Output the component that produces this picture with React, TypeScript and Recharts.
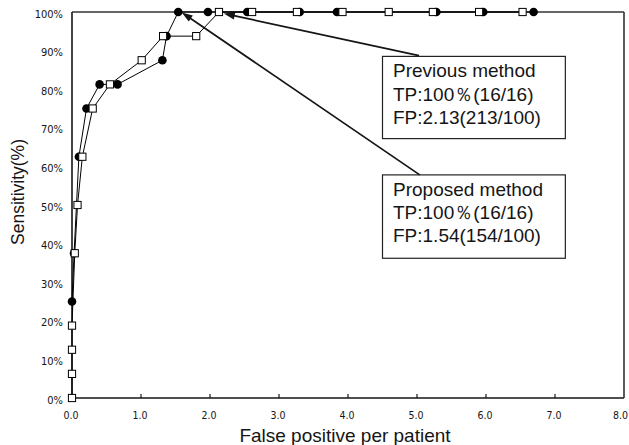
import React from 'react';
import { LineChart, Line, XAxis, YAxis, ReferenceLine, ReferenceArea, Label } from 'recharts';

// Proposed method (filled circles)
const proposedFP = [0.0, 0.03, 0.10, 0.21, 0.40, 0.66, 1.31, 1.37, 1.54, 1.97, 2.54, 3.30, 3.84, 5.28, 5.96, 6.69];
const proposedSens = [25, 37.5, 62.5, 75, 81.25, 81.25, 87.5, 93.75, 100, 100, 100, 100, 100, 100, 100, 100];

// Previous method (open squares)
const previousFP = [0, 0, 0, 0, 0.04, 0.08, 0.15, 0.30, 0.55, 1.01, 1.32, 1.80, 2.13, 2.61, 3.26, 3.92, 4.59, 5.23, 5.90, 6.53];
const previousSens = [0, 6.25, 12.5, 18.75, 37.5, 50, 62.5, 75, 81.25, 87.5, 93.75, 93.75, 100, 100, 100, 100, 100, 100, 100, 100];

const xTicks = [0, 1, 2, 3, 4, 5, 6, 7, 8];
const yTicks = [0, 10, 20, 30, 40, 50, 60, 70, 80, 90, 100];

const previousText = ['Previous method', 'TP:100\uFF05(16/16)', 'FP:2.13(213/100)'];
const proposedText = ['Proposed method', 'TP:100\uFF05(16/16)', 'FP:1.54(154/100)'];

const proposedData = proposedFP.map((x, i) => ({ x, y: proposedSens[i] }));
const previousData = previousFP.map((x, i) => ({ x, y: previousSens[i] }));

const SANS = "'Liberation Sans', Arial, Helvetica, sans-serif";
const NARROW = "'Liberation Sans Narrow', 'Arial Narrow', 'DejaVu Sans Condensed', sans-serif";
const INK = '#151515';

const XTick = (p: any) => {
  const { x, y, payload } = p;
  const v = payload.value as number;
  const last = v >= 8;
  return (
    <g>
      {v > 0 && v < 8 && <line x1={x} y1={y} x2={x} y2={y - 4} stroke={INK} strokeWidth={1.2} />}
      <text
        x={last ? x + 4 : x - 1}
        y={y + 21}
        textAnchor={last ? 'end' : 'middle'}
        fontSize={10.5}
        fontFamily={NARROW}
        fill={INK}
      >
        {v.toFixed(1)}
      </text>
    </g>
  );
};

const YTick = (p: any) => {
  const { x, y, payload } = p;
  return (
    <text x={x - 9} y={y + 5.5} textAnchor="end" fontSize={11} fontFamily={NARROW} fill={INK}>
      {`${payload.value}%`}
    </text>
  );
};

const XLabel = (p: any) => {
  const vb = p.viewBox || { x: 72, y: 398, width: 552, height: 47 };
  return (
    <text x={vb.x + vb.width / 2 - 3} y={vb.y + 44} textAnchor="middle" fontSize={19} fontFamily={SANS} fill={INK}>
      False positive per patient
    </text>
  );
};

const YLabel = (p: any) => {
  const vb = p.viewBox || { x: 0, y: 12, width: 72, height: 386 };
  const cx = vb.x + 23.5;
  const cy = vb.y + vb.height / 2 - 13;
  return (
    <text transform={`translate(${cx},${cy}) rotate(-90)`} textAnchor="middle" fontSize={17.5} fontFamily={SANS} fill={INK}>
      Sensitivity(%)
    </text>
  );
};

const circleDot = (p: any) => (
  <circle key={`c${p.index}`} cx={p.cx} cy={p.cy} r={4.3} fill="#000" />
);
const squareDot = (p: any) => (
  <rect key={`s${p.index}`} x={p.cx - 3.6} y={p.cy - 3.6} width={7.2} height={7.2} fill="#fff" stroke="#000" strokeWidth={1} />
);

const arrowShape = (p: any) => {
  const { x1, y1, x2, y2 } = p;
  const dx = x2 - x1;
  const dy = y2 - y1;
  const len = Math.hypot(dx, dy) || 1;
  const ux = dx / len;
  const uy = dy / len;
  const L = 11;
  const W = 3.6;
  const bx = x2 - ux * L;
  const by = y2 - uy * L;
  const pts = `${x2},${y2} ${bx - uy * W},${by + ux * W} ${bx + uy * W},${by - ux * W}`;
  return (
    <g>
      <line x1={x1} y1={y1} x2={bx + ux * 2} y2={by + uy * 2} stroke={INK} strokeWidth={1.7} />
      <polygon points={pts} fill={INK} />
    </g>
  );
};

const boxShape = (lines: string[]) => (p: any) => (
  <g>
    <rect x={p.x} y={p.y} width={p.width} height={p.height} fill="#fff" stroke="#222" strokeWidth={1.2} />
    {lines.map((t, i) => (
      <text key={i} x={p.x + 10.5} y={p.y + 21 + i * 23.3} fontSize={19} fontFamily={SANS} fill={INK}>
        {t}
      </text>
    ))}
  </g>
);

export default function App() {
  return (
    <div style={{ position: 'absolute', left: 0, top: 0, width: 629, height: 445, background: '#fff' }}>
      <LineChart width={629} height={445} margin={{ top: 12, right: 5, left: 0, bottom: 0 }}>
        <XAxis
          type="number"
          dataKey="x"
          domain={[0, 8]}
          ticks={xTicks}
          interval={0}
          axisLine={false}
          tickLine={false}
          tickSize={0}
          tickMargin={0}
          tick={<XTick />}
          height={47}
          allowDuplicatedCategory={false}
        >
          <Label content={<XLabel />} />
        </XAxis>
        <YAxis
          type="number"
          dataKey="y"
          domain={[0, 100]}
          ticks={yTicks}
          interval={0}
          axisLine={false}
          tickLine={false}
          tickSize={0}
          tickMargin={0}
          tick={<YTick />}
          width={72}
        >
          <Label content={<YLabel />} />
        </YAxis>
        <ReferenceLine x={0} stroke={INK} strokeWidth={1.6} />
        <ReferenceLine y={0} stroke={INK} strokeWidth={1.6} />
        <ReferenceLine x={8} stroke="#333" strokeWidth={1.6} />
        <ReferenceLine y={100} stroke="#333" strokeWidth={1.6} />
        <ReferenceArea x1={4.5} x2={7.15} y1={67.2} y2={88.5} shape={boxShape(previousText)} />
        <ReferenceArea x1={4.5} x2={7.15} y1={36.2} y2={57.8} shape={boxShape(proposedText)} />
        <ReferenceLine segment={[{ x: 5.03, y: 88.7 }, { x: 2.2, y: 99.6 }]} shape={arrowShape} />
        <ReferenceLine segment={[{ x: 5.04, y: 57.8 }, { x: 1.59, y: 99.9 }]} shape={arrowShape} />
        <Line
          data={proposedData}
          dataKey="y"
          type="linear"
          stroke="#000"
          strokeWidth={1}
          dot={circleDot}
          activeDot={false}
          isAnimationActive={false}
        />
        <Line
          data={previousData}
          dataKey="y"
          type="linear"
          stroke="#000"
          strokeWidth={1}
          dot={squareDot}
          activeDot={false}
          isAnimationActive={false}
        />
      </LineChart>
    </div>
  );
}
